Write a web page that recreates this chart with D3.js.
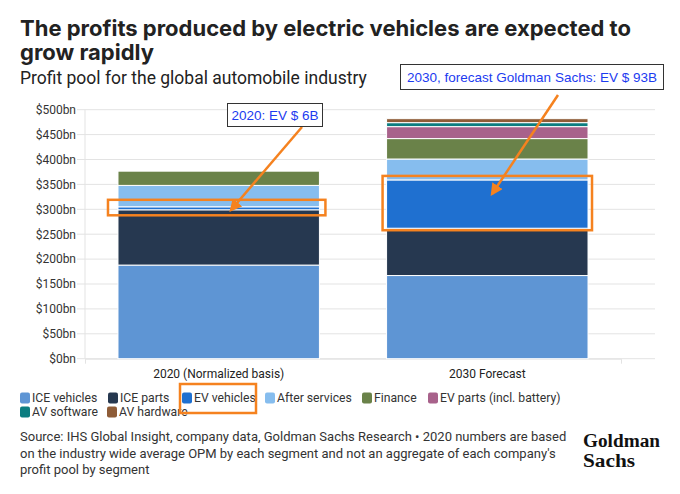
<!DOCTYPE html>
<html>
<head>
<meta charset="utf-8">
<script src="https://cdn.jsdelivr.net/npm/d3@7"></script>
<style>
  html, body { margin: 0; padding: 0; background: #fff; }
  svg { display: block; }
</style>
</head>
<body>
<svg id="chart" width="680" height="494"></svg>
<script>
// ---------------- DATA ----------------
const categories = ["2020 (Normalized basis)", "2030 Forecast"];
const seriesNames = ["ICE vehicles", "ICE parts", "EV vehicles", "After services", "Finance", "EV parts (incl. battery)", "AV software", "AV hardware"];
const iceVehicles   = [188, 167];
const iceParts      = [111, 95];
const evVehicles    = [6, 97];
const afterServices = [43, 42];
const finance       = [29, 41];
const evParts       = [2, 24];
const avSoftware    = [0.5, 8];
const avHardware    = [1, 8];
const seriesColors  = ["#5e95d4", "#263850", "#1f70d0", "#86bdee", "#6a8249", "#a8628b", "#0b7d80", "#8e5c37"];
const yTicks = [0, 50, 100, 150, 200, 250, 300, 350, 400, 450, 500];
const yTickLabels = ["$0bn", "$50bn", "$100bn", "$150bn", "$200bn", "$250bn", "$300bn", "$350bn", "$400bn", "$450bn", "$500bn"];
const titleLines = ["The profits produced by electric vehicles are expected to", "grow rapidly"];
const subtitle = "Profit pool for the global automobile industry";
const annotation2020 = "2020: EV $ 6B";
const annotation2030 = "2030, forecast Goldman Sachs: EV $ 93B";
const sourceLines = [
  "Source: IHS Global Insight, company data, Goldman Sachs Research \u2022 2020 numbers are based",
  "on the industry wide average OPM by each segment and not an aggregate of each company's",
  "profit pool by segment"
];
const logoLines = ["Goldman", "Sachs"];

// ---------------- BUILD ----------------
const seriesValues = [iceVehicles, iceParts, evVehicles, afterServices, finance, evParts, avSoftware, avHardware];
const table = categories.map((c, i) => {
  const row = { category: c };
  seriesNames.forEach((s, j) => row[s] = seriesValues[j][i]);
  return row;
});
const stacked = d3.stack().keys(seriesNames)(table);
const color = d3.scaleOrdinal().domain(seriesNames).range(seriesColors);

const svg = d3.select("#chart");
const FONT = "Roboto, 'Noto Sans', sans-serif";
const ORANGE = "#f5821f";
const BLUE_TXT = "#1c3bf0";

const x = d3.scaleBand().domain(categories).range([85, 621]).paddingInner(0.25).paddingOuter(0.1228);
const y = d3.scaleLinear().domain([0, 500]).range([358.7, 109.7]);
const gridRight = 655;

// Title
const tg = svg.append("g");
titleLines.forEach((t, i) => {
  tg.append("text").attr("x", 20).attr("y", 36 + i * 24)
    .attr("font-family", "Inter, 'Liberation Sans', sans-serif")
    .attr("font-weight", 700).attr("font-size", 22).attr("fill", "#222")
    .text(t);
});
svg.append("text").attr("x", 20).attr("y", 84)
  .attr("font-family", FONT).attr("font-size", 17.5).attr("fill", "#222")
  .text(subtitle);

// Grid
const grid = svg.append("g");
grid.selectAll("line").data(yTicks).join("line")
  .attr("x1", 77).attr("x2", gridRight)
  .attr("y1", d => y(d)).attr("y2", d => y(d))
  .attr("stroke", "#e3e3e3").attr("stroke-width", 1);
svg.append("line").attr("x1", 85).attr("x2", 85).attr("y1", y(500)).attr("y2", y(0))
  .attr("stroke", "#e3e3e3");

// Y axis labels
const yAxis = d3.axisLeft(y).tickValues(yTicks).tickFormat((d, i) => yTickLabels[i]).tickSize(0).tickPadding(0);
const yg = svg.append("g").attr("transform", "translate(76,0)").call(yAxis);
yg.select(".domain").remove();
yg.selectAll("text").attr("font-family", FONT).attr("font-size", 12).attr("fill", "#333");

// X axis
const xAxis = d3.axisBottom(x).tickSize(5).tickPadding(6);
const xg = svg.append("g").attr("transform", `translate(0,${y(0)})`).call(xAxis);
xg.select(".domain").attr("stroke", "#e3e3e3");
xg.selectAll(".tick line").attr("stroke", "#e3e3e3").attr("transform", "translate(0,-5)");
xg.selectAll("text").attr("font-family", FONT).attr("font-size", 12).attr("fill", "#222");

// Bars
const barsG = svg.append("g");
barsG.selectAll("g").data(stacked).join("g")
  .attr("fill", d => color(d.key))
  .selectAll("rect").data(d => d).join("rect")
  .attr("x", d => x(d.data.category))
  .attr("width", x.bandwidth())
  .attr("y", d => y(d[1]))
  .attr("height", d => Math.max(0, y(d[0]) - y(d[1])))
  .attr("stroke", "#fff").attr("stroke-width", 1);

// Annotations
const evSeries = stacked[seriesNames.indexOf("EV vehicles")];
const ev20 = evSeries[0], ev30 = evSeries[1];
const ann = svg.append("g");

ann.append("rect")
  .attr("x", x(categories[0]) - 10).attr("width", x.bandwidth() + 16)
  .attr("y", y(ev20[1]) - 7).attr("height", (y(ev20[0]) - y(ev20[1])) + 12.5)
  .attr("fill", "none").attr("stroke", ORANGE).attr("stroke-width", 2.5);
ann.append("rect")
  .attr("x", x(categories[1]) - 4).attr("width", x.bandwidth() + 8)
  .attr("y", y(ev30[1]) - 4).attr("height", (y(ev30[0]) - y(ev30[1])) + 6)
  .attr("fill", "none").attr("stroke", ORANGE).attr("stroke-width", 2.5);

const defs = svg.append("defs");
defs.append("marker").attr("id", "ah").attr("viewBox", "0 0 10 10")
  .attr("refX", 8).attr("refY", 5).attr("markerWidth", 5).attr("markerHeight", 5)
  .attr("orient", "auto").attr("markerUnits", "strokeWidth")
  .append("path").attr("d", "M0,0 L10,5 L0,10 z").attr("fill", ORANGE);

ann.append("line").attr("x1", 302).attr("y1", 127).attr("x2", 231).attr("y2", 210)
  .attr("stroke", ORANGE).attr("stroke-width", 2.5).attr("marker-end", "url(#ah)");
ann.append("line").attr("x1", 558).attr("y1", 95).attr("x2", 492).attr("y2", 194)
  .attr("stroke", ORANGE).attr("stroke-width", 2.5).attr("marker-end", "url(#ah)");

function labelBox(x0, y0, w, h, txt) {
  ann.append("rect").attr("x", x0).attr("y", y0).attr("width", w).attr("height", h)
    .attr("fill", "#fff").attr("stroke", "#333").attr("stroke-width", 1);
  ann.append("text").attr("x", x0 + w / 2).attr("y", y0 + h / 2 + 4.8)
    .attr("text-anchor", "middle")
    .attr("font-family", "'Liberation Sans', Arial, sans-serif").attr("font-size", 13.5)
    .attr("fill", BLUE_TXT).text(txt);
}
labelBox(227.5, 103.5, 95, 23, annotation2020);
labelBox(400.5, 64.5, 263, 25, annotation2030);

// Legend
const legendLayout = [
  { row: 0, x: 20 }, { row: 0, x: 108 }, { row: 0, x: 182 }, { row: 0, x: 265 },
  { row: 0, x: 362 }, { row: 0, x: 428 }, { row: 1, x: 20 }, { row: 1, x: 107 }
];
const lg = svg.append("g");
seriesNames.forEach((s, i) => {
  const L = legendLayout[i];
  const cy = 398 + L.row * 14;
  lg.append("rect").attr("x", L.x).attr("y", cy - 5.5).attr("width", 10).attr("height", 11)
    .attr("rx", 2).attr("fill", color(s));
  lg.append("text").attr("x", L.x + 12).attr("y", cy + 4.3)
    .attr("font-family", FONT).attr("font-size", 12.2).attr("fill", "#333").text(s);
});
lg.append("rect").attr("x", 180).attr("y", 384).attr("width", 76).attr("height", 29)
  .attr("fill", "none").attr("stroke", ORANGE).attr("stroke-width", 2.5);

// Source
sourceLines.forEach((t, i) => {
  svg.append("text").attr("x", 20).attr("y", 441 + i * 16.5)
    .attr("font-family", FONT).attr("font-size", 13).attr("fill", "#333").text(t);
});

// Logo
const logo = svg.append("g")
  .attr("font-family", "'Liberation Serif', 'DejaVu Serif', serif")
  .attr("font-weight", 700).attr("fill", "#111").attr("font-size", 18);
logo.append("text").attr("x", 583).attr("y", 446.5)
  .attr("textLength", 77).attr("lengthAdjust", "spacingAndGlyphs").text(logoLines[0]);
logo.append("text").attr("x", 583).attr("y", 466.5)
  .attr("textLength", 52).attr("lengthAdjust", "spacingAndGlyphs").text(logoLines[1]);
</script>
</body>
</html>
